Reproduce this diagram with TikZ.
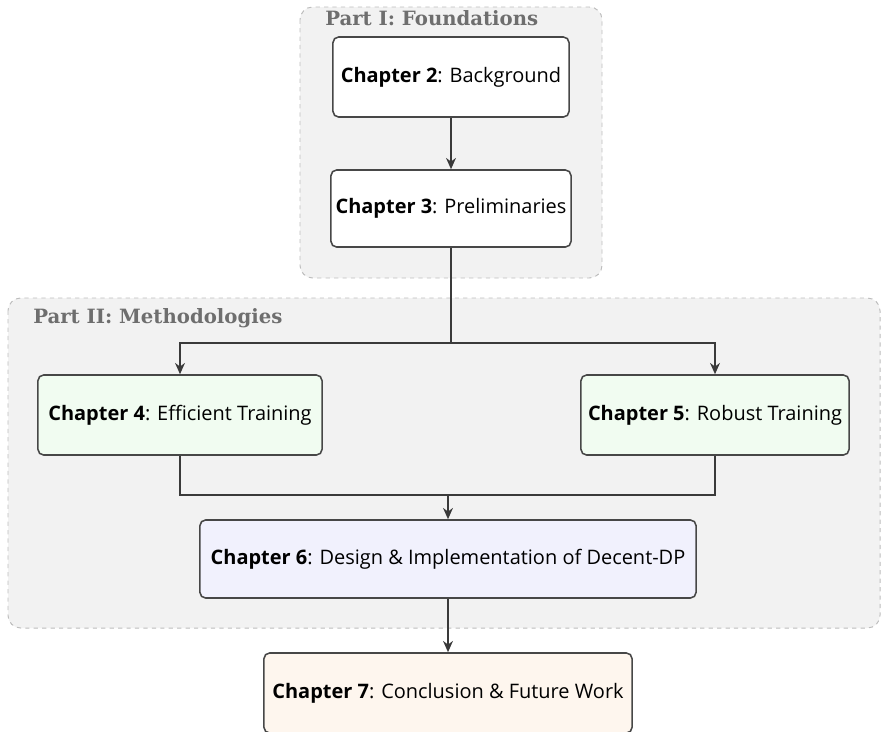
\documentclass[tikz,border=0pt]{standalone}
\usepackage{fontspec}
\setmainfont{Open Sans}
\newfontfamily\partfont{DejaVu Serif}
\usetikzlibrary{arrows.meta,positioning}
\definecolor{partfill}{HTML}{F2F2F2}
\definecolor{dashgray}{HTML}{BDBDBD}
\definecolor{titlegray}{HTML}{6E6E6E}
\definecolor{boxline}{HTML}{474747}
\definecolor{arrowgray}{HTML}{3A3A3A}
\definecolor{methodfill}{HTML}{F1FCF1}
\definecolor{designfill}{HTML}{F1F1FD}
\definecolor{closefill}{HTML}{FEF6EE}
\tikzset{
  chapbox/.style={draw=boxline, line width=1.1pt, rounded corners=4pt, align=center,
    inner sep=0pt, font=\fontsize{14.2}{17}\selectfont},
  partbox/.style={draw=dashgray, dashed, fill=partfill, rounded corners=9pt, line width=0.7pt},
  parttitle/.style={anchor=west, text=titlegray, inner sep=0pt,
    font=\partfont\bfseries\fontsize{14}{16}\selectfont},
  flow/.style={draw=arrowgray, line width=1.3pt},
  flowarrow/.style={flow, -{Stealth[length=8pt,width=7pt]}}
}

\begin{document}
\begin{tikzpicture}[x=0.025cm,y=-0.025cm]
\useasboundingbox (0,0) rectangle (881,731);
% part containers
\draw[partbox] (300,7) rectangle (602,278);
\draw[partbox] (8,298) rectangle (880,628);
\node[parttitle] (titleone) at (325,18) {Part I: Foundations};
\node[parttitle] (titletwo) at (33,318) {Part II: Methodologies};
%
% chapters
\node[chapbox, fill=white, minimum width=5.9cm, minimum height=2cm] (ch2) at (451,77) {\textbf{Chapter 2}: Background};
\node[chapbox, fill=white, minimum width=6cm, minimum height=1.925cm] (ch3) at (451,208.5) {\textbf{Chapter 3}: Preliminaries};
\node[chapbox, fill=methodfill, minimum width=7.1cm, minimum height=2cm] (ch4) at (180,415) {\textbf{Chapter 4}: Efficient Training};
\node[chapbox, fill=methodfill, minimum width=6.7cm, minimum height=2cm] (ch5) at (715,415) {\textbf{Chapter 5}: Robust Training};
\node[chapbox, fill=designfill, minimum width=12.4cm, minimum height=1.95cm] (ch6) at (448,559) {\textbf{Chapter 6}: Design \& Implementation of Decent-DP};
\node[chapbox, fill=closefill, minimum width=9.2cm, minimum height=2cm] (ch7) at (448,693) {\textbf{Chapter 7}: Conclusion \& Future Work};
%
% connectors
\coordinate (split) at (451,343);
\coordinate (merge) at (448,495);
\draw[flowarrow] (ch2) -- (ch3);
\draw[flow] (ch3.south) -- (split);
\draw[flowarrow] (split) -| (ch4.north);
\draw[flowarrow] (split) -| (ch5.north);
\draw[flow] (ch4.south) |- (merge) -| (ch5.south);
\draw[flowarrow] (merge) -- (ch6.north);
\draw[flowarrow] (ch6) -- (ch7);
\end{tikzpicture}
\end{document}
